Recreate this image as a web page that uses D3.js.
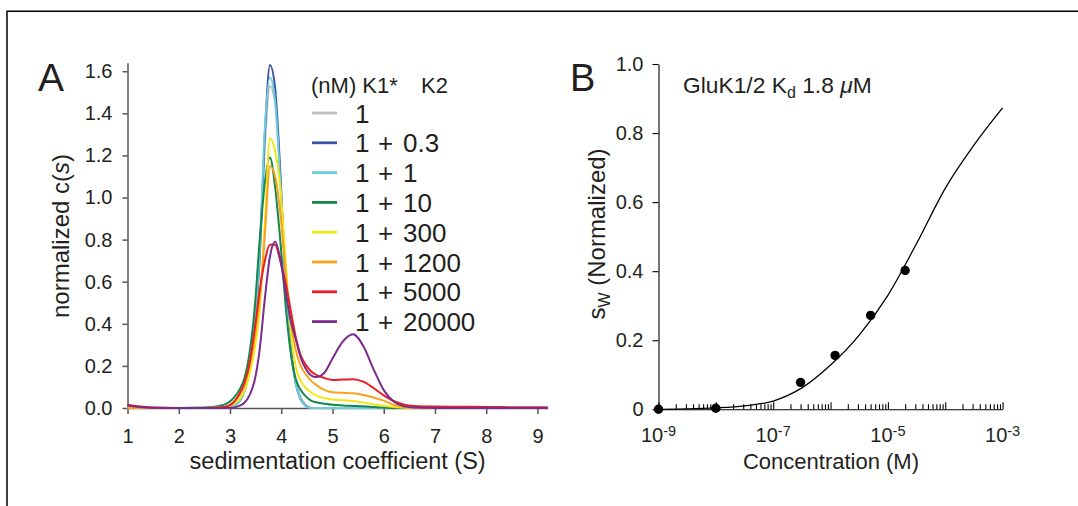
<!DOCTYPE html>
<html>
<head>
<meta charset="utf-8">
<script src="https://cdn.jsdelivr.net/npm/d3@7"></script>
<style>
  body { margin: 0; background: #fff; }
  svg text { font-family: "Liberation Sans", Arial, sans-serif; fill: #231f20; }
</style>
</head>
<body>
<svg id="fig" width="1078" height="506"></svg>
<script>
// panel A: c(s) distributions
var sGrid = [1.0, 1.2, 1.5, 2.0, 2.5, 2.88, 3.08, 3.18, 3.28, 3.38, 3.48, 3.58, 3.68, 3.78, 3.88, 3.98, 4.08, 4.18, 4.28, 4.38,
  4.48, 4.58, 4.68, 4.85, 5.0, 5.2, 5.4, 5.6, 5.8, 6.0, 6.2, 6.4, 6.6, 7.0, 7.5, 8.0, 8.5, 9.0, 9.2];

var csK1 = [0, 0, 0, 0, 0, 0, 0.01, 0.03, 0.08, 0.18, 0.37, 0.7, 1.25, 1.53, 1.45, 1.1, 0.62, 0.3, 0.13, 0.05,
  0.015, 0, 0, 0, 0, 0, 0, 0, 0, 0, 0, 0, 0, 0, 0, 0, 0, 0, 0];
var csK2_03 = [0, 0, 0, 0, 0, 0, 0.01, 0.03, 0.08, 0.18, 0.38, 0.72, 1.3, 1.63, 1.52, 1.13, 0.62, 0.3, 0.12, 0.04,
  0.01, 0, 0, 0, 0, 0, 0, 0, 0, 0, 0, 0, 0, 0, 0, 0, 0, 0, 0];
var csK2_1 = [0, 0, 0, 0, 0, 0, 0.01, 0.03, 0.08, 0.19, 0.39, 0.75, 1.33, 1.57, 1.46, 1.08, 0.6, 0.28, 0.12, 0.04,
  0.01, 0, 0, 0, 0, 0, 0, 0, 0, 0, 0, 0, 0, 0, 0, 0, 0, 0, 0];
var csK2_10 = [0, 0, 0, 0, 0.002, 0.015, 0.05, 0.085, 0.14, 0.26, 0.47, 0.8, 1.07, 1.19, 1.05, 0.8, 0.5, 0.27, 0.14, 0.085,
  0.055, 0.035, 0.027, 0.02, 0.015, 0.012, 0.01, 0.008, 0.005, 0.002, 0, 0, 0, 0, 0, 0, 0, 0, 0];
var csK2_300 = [0, 0, 0, 0, 0, 0.003, 0.02, 0.04, 0.08, 0.16, 0.28, 0.47, 0.88, 1.28, 1.22, 1.05, 0.72, 0.38, 0.2, 0.13,
  0.095, 0.075, 0.06, 0.046, 0.04, 0.037, 0.033, 0.026, 0.018, 0.011, 0.005, 0.001, 0, 0, 0, 0, 0, 0, 0];
var csK2_1200 = [0, 0, 0, 0, 0, 0.005, 0.03, 0.06, 0.11, 0.2, 0.33, 0.52, 0.82, 1.15, 1.1, 0.93, 0.66, 0.42, 0.28, 0.2,
  0.16, 0.13, 0.11, 0.085, 0.075, 0.072, 0.07, 0.062, 0.05, 0.035, 0.015, 0.004, 0.001, 0, 0, 0, 0, 0, 0];
var csK2_5000 = [0.015, 0.008, 0.002, 0, 0, 0.005, 0.03, 0.065, 0.12, 0.21, 0.37, 0.56, 0.7, 0.775, 0.775, 0.7, 0.6, 0.47, 0.34, 0.25,
  0.205, 0.175, 0.158, 0.142, 0.133, 0.135, 0.137, 0.125, 0.095, 0.06, 0.032, 0.016, 0.01, 0.007, 0.006, 0.005, 0.004, 0.003, 0.003];
var csK2_20000 = [0.012, 0.006, 0.001, 0, 0, 0, 0.003, 0.01, 0.025, 0.06, 0.13, 0.28, 0.52, 0.72, 0.79, 0.71, 0.56, 0.42, 0.33, 0.24,
  0.185, 0.155, 0.147, 0.17, 0.235, 0.315, 0.35, 0.295, 0.185, 0.085, 0.03, 0.008, 0.002, 0, 0, 0, 0, 0, 0];

var k2Labels = [null, '0.3', '1', '10', '300', '1200', '5000', '20000'];
var sTicks = [1, 2, 3, 4, 5, 6, 7, 8, 9];
var csTicks = [0, 0.2, 0.4, 0.6, 0.8, 1.0, 1.2, 1.4, 1.6];

// panel B: weight-average s vs concentration
var concM = [1e-9, 1e-8, 3e-7, 1.2e-6, 5e-6, 2e-5];
var swNorm = [0, 0.003, 0.078, 0.156, 0.272, 0.402];
var fitLogC = [-9, -8.5, -8, -7.5, -7, -6.5, -6, -5.5, -5, -4.5, -4, -3.5, -3];
var fitSw = [0, 0.001, 0.004, 0.01, 0.024, 0.062, 0.128, 0.215, 0.33, 0.48, 0.64, 0.765, 0.873];
var swTicks = [0, 0.2, 0.4, 0.6, 0.8, 1.0];
var decadeLabels = [-9, -7, -5, -3];

var seriesA = [csK1, csK2_03, csK2_1, csK2_10, csK2_300, csK2_1200, csK2_5000, csK2_20000];
var colorsA = ['#bcbec0', '#3953a4', '#6dcddd', '#13884a', '#f1e716', '#f8a21d', '#ed1c24', '#7a2b8b'];

var svg = d3.select('#fig');

// frame
svg.append('path')
  .attr('d', 'M7,506V11.3H1078')
  .attr('fill', 'none')
  .attr('stroke', '#000')
  .attr('stroke-width', 1.5);

/* ---------- panel A ---------- */
var xA = d3.scaleLinear().domain([1, 9.2]).range([127.5, 547.75]);
var yA = d3.scaleLinear().domain([0, 1.64]).range([408, 62.8]);

var gA = svg.append('g');

var lineA = d3.line()
  .x(function(d) { return xA(d[0]); })
  .y(function(d) { return yA(d[1]); })
  .curve(d3.curveMonotoneX);

var axA = gA.append('g')
  .attr('transform', 'translate(0,' + yA(0) + ')')
  .call(d3.axisBottom(xA).tickValues(sTicks).tickFormat(d3.format('d'))
    .tickSizeInner(6).tickSizeOuter(0).tickPadding(15));
var ayA = gA.append('g')
  .attr('transform', 'translate(' + xA(1) + ',0)')
  .call(d3.axisLeft(yA).tickValues(csTicks).tickFormat(d3.format('.1f'))
    .tickSizeInner(5).tickSizeOuter(0).tickPadding(10));

[axA, ayA].forEach(function(a) {
  a.attr('font-family', null).attr('font-size', 20);
  a.selectAll('path, line').attr('stroke', '#555').attr('stroke-width', 1.5);
  a.selectAll('text').attr('fill', '#231f20');
});

gA.selectAll('path.cs')
  .data(seriesA)
  .enter()
  .append('path')
  .attr('class', 'cs')
  .attr('fill', 'none')
  .attr('stroke', function(d, i) { return colorsA[i]; })
  .attr('stroke-width', 2)
  .attr('stroke-linejoin', 'round')
  .attr('d', function(vals) {
    return lineA(sGrid.map(function(s, j) { return [s, vals[j]]; }));
  });

gA.append('text')
  .attr('x', 38).attr('y', 91)
  .attr('font-size', 39)
  .text('A');

var ytA = gA.append('text')
  .attr('transform', 'translate(69,236) rotate(-90)')
  .attr('text-anchor', 'middle')
  .attr('font-size', 24);
ytA.append('tspan').text('normalized c(');
ytA.append('tspan').attr('font-style', 'italic').text('s');
ytA.append('tspan').text(')');

gA.append('text')
  .attr('x', (xA(1) + xA(9.2)) / 2).attr('y', 469)
  .attr('text-anchor', 'middle')
  .attr('font-size', 23.5)
  .text('sedimentation coefficient (S)');

// legend
var legA = gA.append('g');
legA.append('text').attr('x', 311).attr('y', 93).attr('font-size', 22).text('(nM) K1*');
legA.append('text').attr('x', 421).attr('y', 93).attr('font-size', 22).text('K2');

var items = legA.selectAll('g.item')
  .data(k2Labels)
  .enter()
  .append('g')
  .attr('class', 'item')
  .attr('transform', function(d, i) { return 'translate(0,' + (113 + i * 29.8) + ')'; });

items.append('line')
  .attr('x1', 312).attr('x2', 337)
  .attr('stroke', function(d, i) { return colorsA[i]; })
  .attr('stroke-width', 2.8);
items.append('text')
  .attr('x', 355).attr('y', 9.5).attr('font-size', 26)
  .text('1');
items.filter(function(d) { return d !== null; })
  .append('text')
  .attr('x', 378).attr('y', 9.5).attr('font-size', 26)
  .text('+');
items.filter(function(d) { return d !== null; })
  .append('text')
  .attr('x', 403).attr('y', 9.5).attr('font-size', 26)
  .text(function(d) { return d; });

/* ---------- panel B ---------- */
var xB = d3.scaleLog().domain([1e-9, 1e-3]).range([658.5, 1002.6]);
var yB = d3.scaleLinear().domain([0, 1]).range([409.3, 64]);

var gB = svg.append('g');

var logTicks = [];
for (var e = -9; e < -3; e++) {
  for (var m = 1; m < 10; m++) logTicks.push(m * Math.pow(10, e));
}
logTicks.push(1e-3);

var axB = gB.append('g')
  .attr('transform', 'translate(0,' + yB(0) + ')')
  .call(d3.axisBottom(xB).tickValues(logTicks).tickFormat(function() { return ''; })
    .tickSizeInner(-5).tickSizeOuter(0));
axB.selectAll('.tick line')
  .attr('y2', function(d) { return Math.abs(Math.log10(d) - Math.round(Math.log10(d))) < 1e-6 ? -7 : -5; });

var ayB = gB.append('g')
  .attr('transform', 'translate(' + xB(1e-9) + ',0)')
  .call(d3.axisLeft(yB).tickValues(swTicks)
    .tickFormat(function(d) { return d === 0 ? '0' : d3.format('.1f')(d); })
    .tickSizeInner(6).tickSizeOuter(0).tickPadding(9));

[axB, ayB].forEach(function(a) {
  a.attr('font-family', null).attr('font-size', 20);
  a.selectAll('path, line').attr('stroke', '#000').attr('stroke-width', 1.1);
  a.selectAll('text').attr('fill', '#231f20');
});

var decTxt = gB.selectAll('text.dec')
  .data(decadeLabels)
  .enter()
  .append('text')
  .attr('class', 'dec')
  .attr('x', function(d) { return xB(Math.pow(10, d)); })
  .attr('y', 442)
  .attr('text-anchor', 'middle')
  .attr('font-size', 20);
decTxt.append('tspan').text('10');
decTxt.append('tspan').attr('font-size', 14.5).attr('dy', -6).text(function(d) { return String(d); });

var lineB = d3.line()
  .x(function(d) { return xB(Math.pow(10, d[0])); })
  .y(function(d) { return yB(d[1]); })
  .curve(d3.curveMonotoneX);

gB.append('path')
  .attr('fill', 'none')
  .attr('stroke', '#000')
  .attr('stroke-width', 1.3)
  .attr('d', lineB(fitLogC.map(function(c, i) { return [c, fitSw[i]]; })));

gB.selectAll('circle')
  .data(concM)
  .enter()
  .append('circle')
  .attr('cx', function(d) { return xB(d); })
  .attr('cy', function(d, i) { return yB(swNorm[i]); })
  .attr('r', 4.7)
  .attr('fill', '#000');

gB.append('text')
  .attr('x', 570).attr('y', 91)
  .attr('font-size', 38)
  .text('B');

var ttl = gB.append('text')
  .attr('x', 683).attr('y', 93)
  .attr('font-size', 22.8);
ttl.append('tspan').text('GluK1/2 K');
ttl.append('tspan').attr('font-size', 16).attr('dy', 5).text('d');
ttl.append('tspan').attr('dy', -5).text(' 1.8 ');
ttl.append('tspan').attr('font-style', 'italic').text('\u03bc');
ttl.append('tspan').text('M');

var ytB = gB.append('text')
  .attr('transform', 'translate(605,234) rotate(-90)')
  .attr('text-anchor', 'middle')
  .attr('font-size', 24);
ytB.append('tspan').text('s');
ytB.append('tspan').attr('font-size', 16).attr('dy', 5).text('W');
ytB.append('tspan').attr('dy', -5).text(' (Normalized)');

gB.append('text')
  .attr('x', 831).attr('y', 469)
  .attr('text-anchor', 'middle')
  .attr('font-size', 22)
  .text('Concentration (M)');
</script>
</body>
</html>
